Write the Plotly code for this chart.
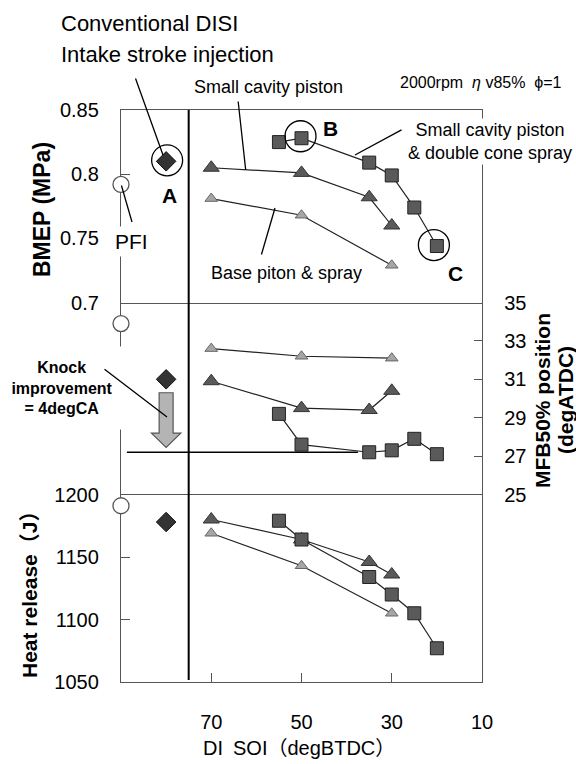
import plotly.graph_objects as go

# ---------------- data ----------------
soi_base = [70, 50, 30]
bmep_base = [0.781, 0.768, 0.729]
mfb50_base = [32.6, 32.2, 32.1]
heat_base = [1169, 1143, 1105]

soi_cavity = [70, 50, 35, 30]
bmep_cavity = [0.805, 0.801, 0.782, 0.760]
mfb50_cavity = [30.9, 29.5, 29.4, 30.4]
heat_cavity = [1180, 1164, 1146, 1136]

soi_dcone = [55, 50, 35, 30, 25, 20]
bmep_dcone = [0.825, 0.828, 0.809, 0.799, 0.774, 0.744]
mfb50_dcone = [29.2, 27.6, 27.2, 27.3, 27.9, 27.1]
heat_dcone = [1179, 1164, 1134, 1120, 1105, 1077]

soi_pfi = [90]
bmep_pfi = [0.792]
mfb50_pfi = [33.9]
heat_pfi = [1191]

soi_disi = [80]
bmep_disi = [0.810]
mfb50_disi = [31.0]
heat_disi = [1178]

x_ticks = [70, 50, 30, 10]
bmep_ticks = [0.7, 0.75, 0.8, 0.85]
bmep_ticktext = ["0.7", "0.75", "0.8", "0.85"]
mfb_ticks = [25, 27, 29, 31, 33, 35]
heat_ticks = [1050, 1100, 1150, 1200]

intake_limit_soi = 75          # vertical separator
best_mfb50 = mfb50_dcone[2]    # horizontal reference level

# ---------------- layout geometry ----------------
W, H = 576, 764
L, R, T, B = 121, 482, 110, 682
PW, PH = R - L, B - T


def px(x):
    return (x - L) / PW


def py(y):
    return (B - y) / PH


FONT = "Liberation Sans, Arial, Noto Sans CJK JP, sans-serif"
d_bot = [0, py(494.5)]
d_mid = [py(494.5), py(302.5)]
d_top = [py(302.5), 1]

fig = go.Figure()

sq = dict(symbol="square", size=13, color="#5a5a5a", line=dict(color="#222", width=1))
tri_d = dict(symbol="triangle-up", size=14, color="#5a5a5a", line=dict(color="#333", width=1))
tri_l = dict(symbol="triangle-up", size=11, color="#a6a6a6", line=dict(color="#666", width=1))
dia = dict(symbol="diamond", size=15, color="#333", line=dict(color="#111", width=1))
circ = dict(symbol="circle", size=16, color="white", line=dict(color="#555", width=1.3))
ln = dict(color="#222", width=1.2)

panels = [
    ("x3", "y3", bmep_base, bmep_cavity, bmep_dcone, bmep_pfi, bmep_disi),
    ("x2", "y2", mfb50_base, mfb50_cavity, mfb50_dcone, mfb50_pfi, mfb50_disi),
    ("x", "y", heat_base, heat_cavity, heat_dcone, heat_pfi, heat_disi),
]
for xa, ya, vb, vc, vd, vp, vdi in panels:
    fig.add_trace(go.Scatter(x=soi_base, y=vb, mode="lines+markers", line=ln, marker=tri_l,
                             xaxis=xa, yaxis=ya, showlegend=False, cliponaxis=False))
    fig.add_trace(go.Scatter(x=soi_cavity, y=vc, mode="lines+markers", line=ln, marker=tri_d,
                             xaxis=xa, yaxis=ya, showlegend=False, cliponaxis=False))
    fig.add_trace(go.Scatter(x=soi_dcone, y=vd, mode="lines+markers", line=ln, marker=sq,
                             xaxis=xa, yaxis=ya, showlegend=False, cliponaxis=False))
    fig.add_trace(go.Scatter(x=soi_disi, y=vdi, mode="markers", marker=dia,
                             xaxis=xa, yaxis=ya, showlegend=False, cliponaxis=False))
    fig.add_trace(go.Scatter(x=soi_pfi, y=vp, mode="markers", marker=circ,
                             xaxis=xa, yaxis=ya, showlegend=False, cliponaxis=False))

LC, LW = "#555", 1.3
axline = dict(showline=True, linecolor=LC, linewidth=LW, mirror=True,
              showgrid=False, zeroline=False, layer="below traces")
xnoline = dict(showline=False, showgrid=False, zeroline=False, layer="below traces")
tickfont = dict(family=FONT, size=20, color="black")

fig.update_layout(
    width=W, height=H,
    margin=dict(l=L, r=W - R, t=T, b=H - B),
    paper_bgcolor="white", plot_bgcolor="white",
    font=dict(family=FONT, color="black"),
    xaxis=dict(range=[90, 10], tickvals=x_ticks, ticks="inside", ticklen=9, tickcolor=LC,
               tickfont=tickfont, ticklabelstandoff=22, anchor="y", **axline),
    xaxis2=dict(matches="x", range=[90, 10], showticklabels=False, ticks="", anchor="y2", **xnoline),
    xaxis3=dict(matches="x", range=[90, 10], showticklabels=False, ticks="", anchor="y3", **axline),
    yaxis=dict(domain=d_bot, range=[1050, 1200], tickvals=heat_ticks, ticks="inside", ticklen=9,
               tickcolor=LC, tickfont=tickfont, ticklabelstandoff=17, anchor="x", **axline),
    yaxis2=dict(domain=d_mid, range=[25, 35], tickvals=mfb_ticks, ticks="inside", ticklen=8,
                tickcolor=LC, side="right", tickfont=tickfont, ticklabelstandoff=17,
                anchor="x2", **axline),
    yaxis3=dict(domain=d_top, range=[0.7, 0.85], tickvals=bmep_ticks, ticktext=bmep_ticktext,
                ticks="inside", ticklen=9, tickcolor=LC, tickfont=tickfont,
                ticklabelstandoff=17, anchor="x3", **axline),
)

shapes = []
# vertical separator between intake-stroke injection and DI SOI
shapes.append(dict(type="line", xref="x", yref="paper", x0=intake_limit_soi, x1=intake_limit_soi,
                   y0=py(680), y1=1, line=dict(color="black", width=2)))
# horizontal reference level in MFB50 panel
shapes.append(dict(type="line", xref="x2", yref="y2", x0=88.7, x1=37.5, y0=best_mfb50, y1=best_mfb50,
                   line=dict(color="black", width=1.6)))
# block arrow (knock improvement)
xc = soi_disi[0]
hs, hh = 1.55, 3.25
y_top, y_hb, y_tip = 30.3, 28.2, 27.45
path = (f"M{xc-hs},{y_top} L{xc+hs},{y_top} L{xc+hs},{y_hb} L{xc+hh},{y_hb} "
        f"L{xc},{y_tip} L{xc-hh},{y_hb} L{xc-hs},{y_hb} Z")
shapes.append(dict(type="path", xref="x2", yref="y2", path=path, fillcolor="#b4b4b4",
                   line=dict(color="#555", width=1.2), layer="above"))
# circles A, B, C
for (cx, cy, dx, dy) in [(soi_disi[0], bmep_disi[0], 1, 1),
                         (soi_dcone[1], bmep_dcone[1], -1, 2),
                         (soi_dcone[5], bmep_dcone[5], -3, 1)]:
    r = 15.5
    shapes.append(dict(type="circle", xref="x3", yref="y3", xsizemode="pixel", ysizemode="pixel",
                       xanchor=cx, yanchor=cy, x0=dx - r, x1=dx + r, y0=dy - r, y1=dy + r,
                       line=dict(color="black", width=1.3), layer="above"))
fig.update_layout(shapes=shapes)

ann = []


def text(s, x, y, size, bold=False, xanchor="center", bg=None, **kw):
    d = dict(text=(f"<b>{s}</b>" if bold else s), x=px(x), y=py(y), xref="paper", yref="paper",
             xanchor=xanchor, yanchor="middle", showarrow=False,
             font=dict(family=FONT, size=size, color="black"))
    if bg:
        d["bgcolor"] = bg
    d.update(kw)
    ann.append(d)


def leader(x0, y0, x1, y1):
    ann.append(dict(text="", x=px(x1), y=py(y1), xref="paper", yref="paper",
                    ax=x0 - x1, ay=y0 - y1, showarrow=True, arrowhead=0,
                    arrowwidth=1.3, arrowcolor="black", standoff=0, startstandoff=0))


text("Conventional DISI", 59, 23, 22, xanchor="left")
text("Intake stroke injection", 59, 55, 22, xanchor="left")
text("Small cavity piston", 268, 87, 18)
text("2000rpm  <i>η</i> v85%  ϕ=1", 481, 82, 16)
text("Small cavity piston<br>& double cone spray", 490, 141.5, 18, bg="white")
text("Base piton & spray", 286, 273, 18)
text("PFI", 131, 242, 21, bg="white", borderpad=3)
text("A", 169, 195, 21, bold=True)
text("B", 330, 128, 21, bold=True)
text("C", 455, 273, 21, bold=True)
text("Knock<br>improvement<br>= 4degCA", 62, 388, 16, bold=True, bg="white", width=120, height=80)

text("BMEP (MPa)", 42, 210, 23, bold=True, textangle=-90)
text("Heat release（J）", 29, 590, 21, bold=True, textangle=-90)
text("MFB50% position", 542, 401, 21, bold=True, textangle=-90)
text("(degATDC)", 565, 400, 21, bold=True, textangle=-90)
text("DI\u2002SOI（degBTDC）", 299, 748, 20)

leader(135, 77, 163, 155)
leader(238, 100, 245.7, 170)
leader(403, 129, 355, 155)
leader(261, 256, 275, 208)
leader(121, 184, 132, 222)
leader(103, 368, 167, 417)

fig.update_layout(annotations=ann)
fig.write_html("out.html")
